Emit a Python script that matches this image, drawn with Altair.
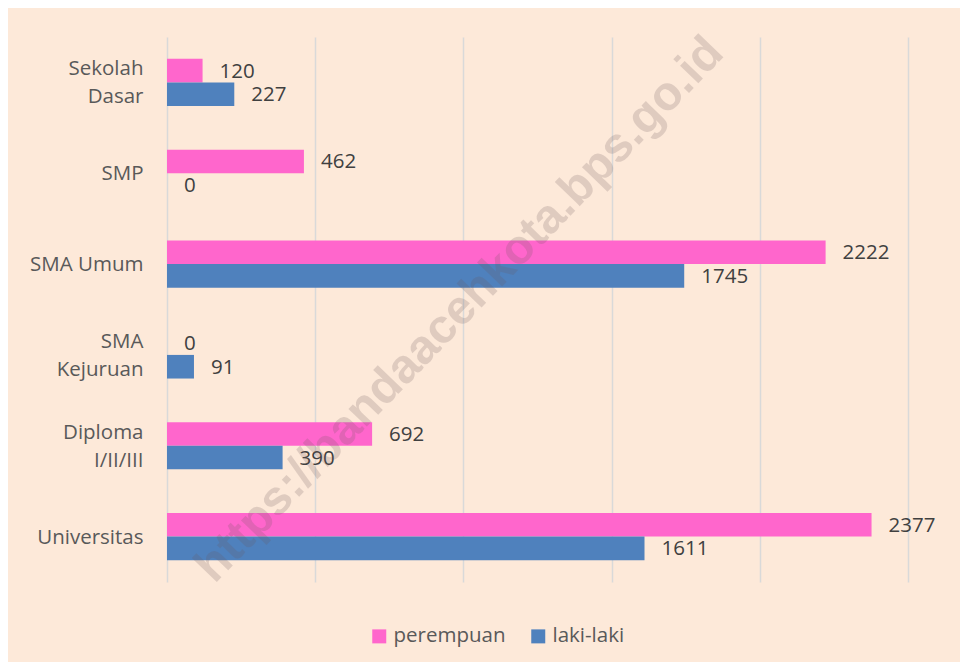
import altair as alt
import pandas as pd

categories = ["Sekolah|Dasar", "SMP", "SMA Umum", "SMA|Kejuruan", "Diploma|I/II/III", "Universitas"]
series = ["perempuan", "laki-laki"]
perempuan = [120, 462, 2222, 0, 692, 2377]
laki_laki = [227, 0, 1745, 91, 390, 1611]
grid_values = [0, 500, 1000, 1500, 2000, 2500]
watermark = "https://bandaacehkota.bps.go.id"

rows = []
for c, p, l in zip(categories, perempuan, laki_laki):
    rows.append({"kategori": c, "jenis": "perempuan", "nilai": p})
    rows.append({"kategori": c, "jenis": "laki-laki", "nilai": l})
df = pd.DataFrame(rows)

FONT = "Open Sans"
FS = 20.5

base = alt.Chart(df).encode(
    y=alt.Y(
        "kategori:N",
        sort=categories,
        scale=alt.Scale(paddingInner=0.48, paddingOuter=0.24),
        axis=alt.Axis(
            title=None,
            labelExpr="split(datum.label, '|')",
            ticks=False,
            domain=False,
            labelPadding=24,
            labelFontSize=FS,
            labelFont=FONT,
            labelColor="#595959",
            labelAlign="right",
            labelLineHeight=28,
            labelOffset=alt.condition(
                "indexof(datum.value, '|') >= 0", alt.value(-13), alt.value(1)
            ),
        ),
    ),
    yOffset=alt.YOffset("jenis:N", sort=series),
    x=alt.X(
        "nilai:Q",
        scale=alt.Scale(domain=[0, 2500]),
        axis=alt.Axis(
            values=grid_values,
            labels=False,
            ticks=False,
            domain=False,
            grid=True,
            gridColor="#D9D9D9",
            gridWidth=1.5,
            title=None,
        ),
    ),
)

bars = base.mark_bar().encode(
    color=alt.Color(
        "jenis:N",
        sort=series,
        scale=alt.Scale(domain=series, range=["#FF66CC", "#4F81BD"]),
        legend=alt.Legend(
            title=None,
            orient="none",
            legendX=202,
            legendY=589,
            direction="horizontal",
            symbolType="square",
            symbolSize=196,
            symbolStrokeWidth=0,
            labelFontSize=FS,
            labelFont=FONT,
            labelColor="#595959",
            labelOffset=4,
            columnPadding=22,
        ),
    )
)

labels = base.mark_text(
    align="left", baseline="middle", dx=17, dy=1, fontSize=FS, font=FONT, color="#404040"
).encode(text="nilai:Q")

wm = alt.Chart(pd.DataFrame({"t": [watermark]})).mark_text(
    angle=314,
    fontSize=48,
    fontWeight="bold",
    font="Liberation Sans",
    color="#6C585C",
    opacity=0.2,
    align="center",
    baseline="middle",
).encode(text="t:N", x=alt.value(293), y=alt.value(273))

chart = (
    alt.layer(bars, labels, wm)
    .properties(
        width=741,
        height=545,
        autosize=alt.AutoSizeParams(type="none"),
        padding={"left": 159, "top": 29, "right": 52, "bottom": 80},
        background="#FDE9D9",
    )
    .configure_view(strokeWidth=0)
)

chart.save("out.html", embed_options={"renderer": "svg", "actions": False})
